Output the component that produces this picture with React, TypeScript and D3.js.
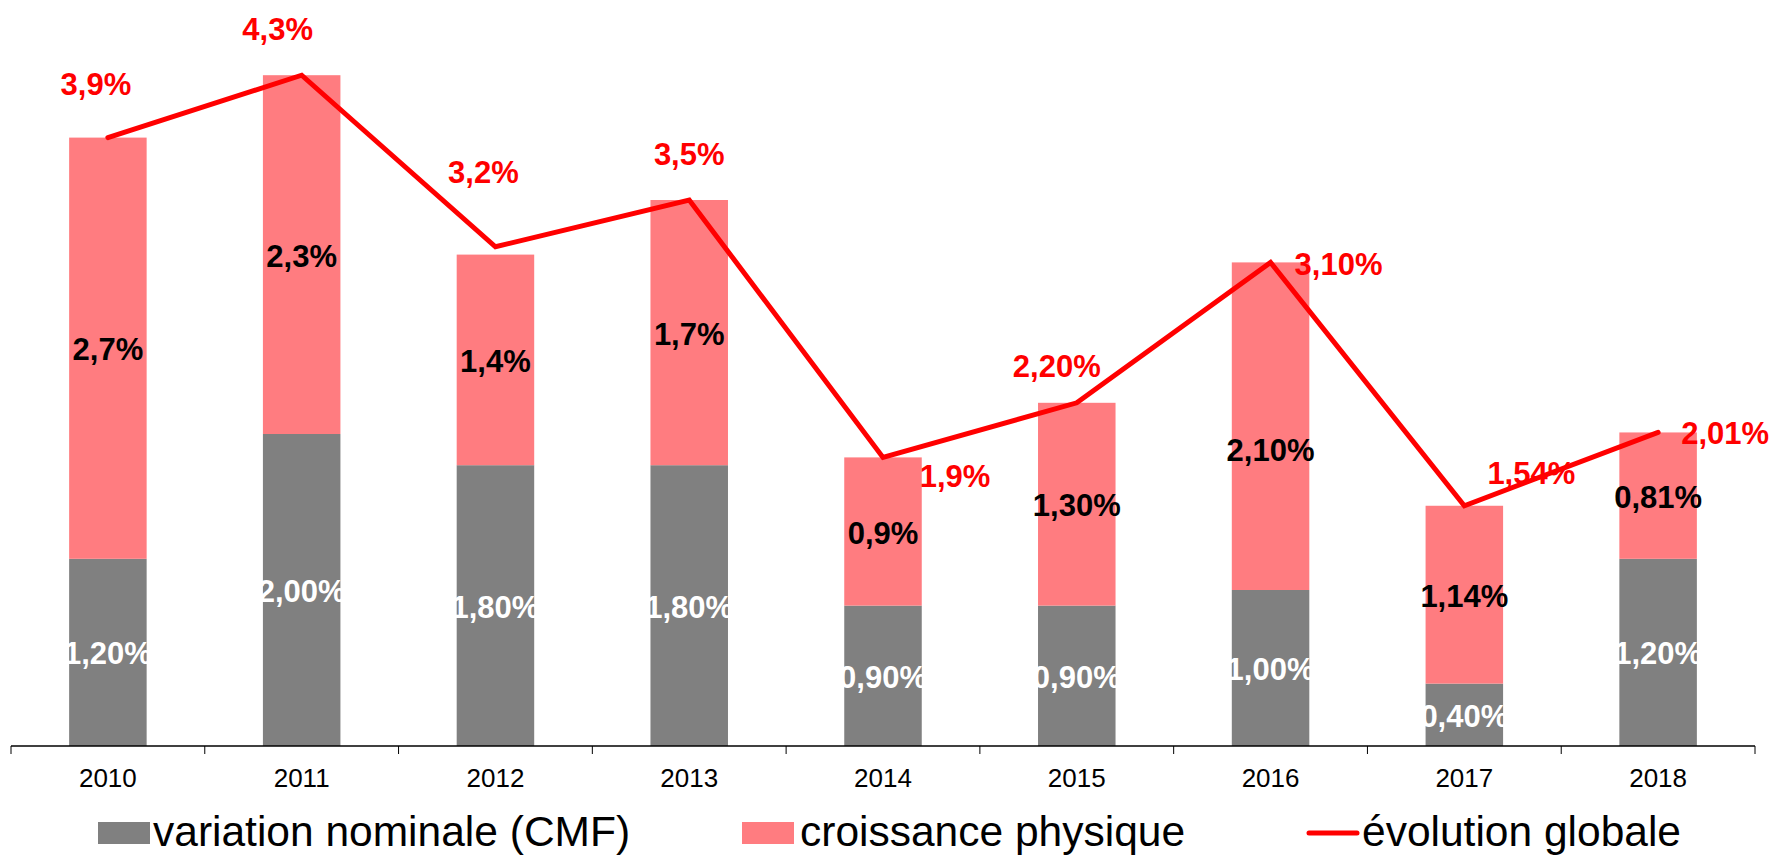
import { useEffect, useRef } from "react";
import * as d3 from "d3";

const YEARS = ["2010", "2011", "2012", "2013", "2014", "2015", "2016", "2017", "2018"];
const NOMINAL = [1.2, 2.0, 1.8, 1.8, 0.9, 0.9, 1.0, 0.4, 1.2];
const PHYSIQUE = [2.7, 2.3, 1.35, 1.7, 0.95, 1.3, 2.1, 1.14, 0.81];
const GLOBAL = [3.9, 4.3, 3.2, 3.5, 1.85, 2.2, 3.1, 1.54, 2.01];

const NOMINAL_LABELS = ["1,20%", "2,00%", "1,80%", "1,80%", "0,90%", "0,90%", "1,00%", "0,40%", "1,20%"];
const PHYSIQUE_LABELS = ["2,7%", "2,3%", "1,4%", "1,7%", "0,9%", "1,30%", "2,10%", "1,14%", "0,81%"];
const GLOBAL_LABELS = ["3,9%", "4,3%", "3,2%", "3,5%", "1,9%", "2,20%", "3,10%", "1,54%", "2,01%"];

// label nudges around the line points (dx to text centre, dy to baseline)
const GLOBAL_LABEL_NUDGE = [
  [-12, -43], [-24, -35], [-12, -64], [0, -35], [72, 30],
  [-20, -26], [68, 13], [67, -22], [67, 12],
];
// the 2016 label sits lower than the segment centre
const PHYSIQUE_LABEL_DY = [0, 0, 0, 0, 0, 0, 23, 0, 0];

const GREY = "#808080";
const PINK = "#FF7C80";
const RED = "#FF0000";
const FONT = "'Liberation Sans', Arial, sans-serif";

const W = 1776;
const H = 855;

export default function App() {
  const ref = useRef<SVGSVGElement | null>(null);

  useEffect(() => {
    if (!ref.current) return;
    const svg = d3.select(ref.current);
    svg.selectAll("*").remove();

    const axisY = 746;
    const x = d3.scaleBand<string>().domain(YEARS).range([11, 1755]).paddingInner(0.6).paddingOuter(0.3);
    const band = d3.scaleBand<string>().domain(YEARS).range([11, 1755]);
    const y = d3.scaleLinear().domain([0, 4.5]).range([axisY, axisY - 4.5 * 156]);
    const cx = (i: number) => (band(YEARS[i]) as number) + band.bandwidth() / 2;
    const bw = x.bandwidth();

    const g = svg.append("g");

    // grey bars (variation nominale)
    g.selectAll(".nom")
      .data(NOMINAL)
      .enter()
      .append("rect")
      .attr("x", (_, i) => cx(i) - bw / 2)
      .attr("width", bw)
      .attr("y", (d) => y(d))
      .attr("height", (d) => y(0) - y(d))
      .attr("fill", GREY);

    // pink bars stacked on top
    g.selectAll(".phy")
      .data(PHYSIQUE)
      .enter()
      .append("rect")
      .attr("x", (_, i) => cx(i) - bw / 2)
      .attr("width", bw)
      .attr("y", (d, i) => y(NOMINAL[i] + d))
      .attr("height", (d) => y(0) - y(d))
      .attr("fill", PINK);

    // segment labels
    g.selectAll(".nomlbl")
      .data(NOMINAL)
      .enter()
      .append("text")
      .attr("x", (_, i) => cx(i))
      .attr("y", (d) => y(d / 2) + 12)
      .attr("text-anchor", "middle")
      .attr("font-family", FONT)
      .attr("font-weight", "bold")
      .attr("font-size", 31)
      .attr("fill", "#ffffff")
      .text((_, i) => NOMINAL_LABELS[i]);

    g.selectAll(".phylbl")
      .data(PHYSIQUE)
      .enter()
      .append("text")
      .attr("x", (_, i) => cx(i))
      .attr("y", (d, i) => y(NOMINAL[i] + d / 2) + 12 + PHYSIQUE_LABEL_DY[i])
      .attr("text-anchor", "middle")
      .attr("font-family", FONT)
      .attr("font-weight", "bold")
      .attr("font-size", 31)
      .attr("fill", "#000000")
      .text((_, i) => PHYSIQUE_LABELS[i]);

    // axis
    g.append("line")
      .attr("x1", 11)
      .attr("x2", 1755)
      .attr("y1", axisY)
      .attr("y2", axisY)
      .attr("stroke", "#000")
      .attr("stroke-width", 1.5);

    const tickXs = YEARS.map((yr) => band(yr) as number).concat([1755]);
    g.selectAll(".tick")
      .data(tickXs)
      .enter()
      .append("line")
      .attr("x1", (d) => d)
      .attr("x2", (d) => d)
      .attr("y1", axisY)
      .attr("y2", axisY + 8)
      .attr("stroke", "#000")
      .attr("stroke-width", 1);

    g.selectAll(".ticklbl")
      .data(YEARS)
      .enter()
      .append("text")
      .attr("x", (_, i) => cx(i))
      .attr("y", 787)
      .attr("text-anchor", "middle")
      .attr("font-family", FONT)
      .attr("font-size", 26)
      .attr("fill", "#000")
      .text((d) => d);

    // global line
    const line = d3
      .line<number>()
      .x((_, i) => cx(i))
      .y((d) => y(d));

    g.append("path")
      .datum(GLOBAL)
      .attr("d", line)
      .attr("fill", "none")
      .attr("stroke", RED)
      .attr("stroke-width", 5)
      .attr("stroke-linecap", "round");

    g.selectAll(".glbl")
      .data(GLOBAL)
      .enter()
      .append("text")
      .attr("x", (_, i) => cx(i) + GLOBAL_LABEL_NUDGE[i][0])
      .attr("y", (d, i) => y(d) + GLOBAL_LABEL_NUDGE[i][1])
      .attr("text-anchor", "middle")
      .attr("font-family", FONT)
      .attr("font-weight", "bold")
      .attr("font-size", 31)
      .attr("fill", RED)
      .text((_, i) => GLOBAL_LABELS[i]);

    // legend
    const leg = g.append("g").attr("font-family", FONT).attr("font-size", 42.5).attr("fill", "#000");
    leg.append("rect").attr("x", 98).attr("y", 822).attr("width", 52).attr("height", 22).attr("fill", GREY);
    leg.append("text").attr("x", 153).attr("y", 846).text("variation nominale (CMF)");
    leg.append("rect").attr("x", 742).attr("y", 822).attr("width", 52).attr("height", 22).attr("fill", PINK);
    leg.append("text").attr("x", 800).attr("y", 846).text("croissance physique");
    leg.append("line")
      .attr("x1", 1309)
      .attr("x2", 1357)
      .attr("y1", 833)
      .attr("y2", 833)
      .attr("stroke", RED)
      .attr("stroke-width", 5)
      .attr("stroke-linecap", "round");
    leg.append("text").attr("x", 1362).attr("y", 846).text("évolution globale");
  }, []);

  return (
    <div style={{ position: "absolute", left: 0, top: 0, width: W, height: H, background: "#fff" }}>
      <svg ref={ref} width={W} height={H} />
    </div>
  );
}
